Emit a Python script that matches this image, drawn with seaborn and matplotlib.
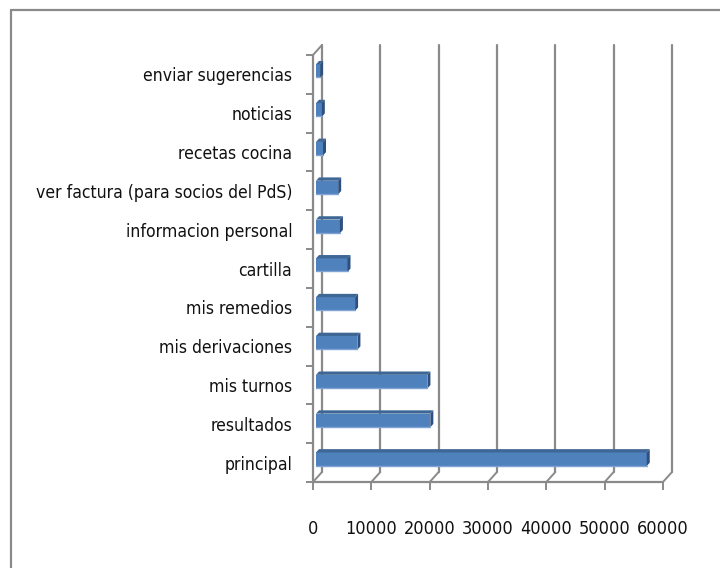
import matplotlib
matplotlib.use("Agg")
import matplotlib.pyplot as plt
import matplotlib.transforms as mtransforms
from matplotlib.patches import Polygon
from matplotlib.lines import Line2D
import seaborn as sns
import pandas as pd
import numpy as np

categories = ["enviar sugerencias", "noticias", "recetas cocina",
              "ver factura (para socios del PdS)", "informacion personal",
              "cartilla", "mis remedios", "mis derivaciones", "mis turnos",
              "resultados", "principal"]
values = [700, 1000, 1200, 3800, 4100, 5400, 6700, 7100, 19100, 19600, 56700]
xticks = [0, 10000, 20000, 30000, 40000, 50000, 60000]

df = pd.DataFrame({"pagina": categories, "visitas": values})

sns.set_theme(style="white")
plt.rcParams['font.family'] = ['DejaVu Sans']
plt.rcParams['font.stretch'] = 'condensed'

W, H = 720, 568
fig = plt.figure(figsize=(W / 100, H / 100), dpi=100)
x0p, x1p, y0p, y1p = 313, 663, 482, 55
ax = fig.add_axes([x0p / W, 1 - y0p / H, (x1p - x0p) / W, (y0p - y1p) / H])

FACE = "#4F81BD"
TOP = "#3E6796"
SIDE = "#2D5080"
GRID = "#8A8A8A"

sns.barplot(data=df, y="pagina", x="visitas", order=categories, orient="h",
            color=FACE, saturation=1, width=0.35, ax=ax, edgecolor="none",
            linewidth=0, zorder=3)

ax.set_xlim(0, 60000)
ax.set_ylim(len(categories) - 0.5, -0.5)
for s in ax.spines.values():
    s.set_visible(False)
ax.set_xlabel("")
ax.set_ylabel("")
ax.patch.set_alpha(0)

DX, DY = 9, 10
def off(dx, dy):
    return mtransforms.ScaledTranslation(dx / 100, dy / 100, fig.dpi_scale_trans)

back = ax.transData + off(DX, DY)
ymin, ymax = len(categories) - 0.5, -0.5

for xv in xticks:
    ax.add_line(Line2D([xv, xv], [ymin, ymax], color=GRID, lw=1.6,
                       transform=back, zorder=1, clip_on=False))
for xv in xticks:
    p0 = ax.transData.transform((xv, ymin))
    p1 = back.transform((xv, ymin))
    fig.add_artist(Line2D([p0[0], p1[0]], [p0[1], p1[1]], color=GRID, lw=1.4,
                          transform=None, zorder=1))
ax.add_line(Line2D([0, 60000], [ymin, ymin], color=GRID, lw=1.6,
                   transform=ax.transData, zorder=1, clip_on=False))
ax.add_line(Line2D([0, 0], [ymin, ymax], color=GRID, lw=1.6,
                   transform=ax.transData, zorder=1, clip_on=False))
p0 = ax.transData.transform((0, ymax))
p1 = back.transform((0, ymax))
fig.add_artist(Line2D([p0[0], p1[0]], [p0[1], p1[1]], color=GRID, lw=1.4,
                      transform=None, zorder=1))

f1 = 1 / 3
front_off = off(DX * f1, DY * f1)
for patch in ax.patches:
    x = patch.get_x(); w = patch.get_width()
    y = patch.get_y(); h = patch.get_height()
    patch.set_transform(ax.transData + front_off)
    t = ax.transData + front_off
    bl = t.transform((x, y + h)); br = t.transform((x + w, y + h))
    tl = t.transform((x, y)); tr = t.transform((x + w, y))
    d = np.array([DX * f1, DY * f1])
    top = Polygon([tl, tr, tr + d, tl + d], closed=True, transform=None,
                  facecolor=TOP, edgecolor="none", zorder=3)
    side = Polygon([br, tr, tr + d, br + d], closed=True, transform=None,
                   facecolor=SIDE, edgecolor="none", zorder=3)
    fig.add_artist(top)
    fig.add_artist(side)
    fig.add_artist(Line2D([bl[0], br[0]], [bl[1] + 0.5, br[1] + 0.5],
                          color="#7FA3D3", lw=1.0, transform=None, zorder=4))

ax.set_xticks(xticks)
ax.set_xticklabels([str(v) for v in xticks])
ax.tick_params(axis="x", bottom=True, length=6, width=1.4, color=GRID,
               pad=21, labelsize=13, labelcolor="#111111")
ax.set_yticks(range(len(categories)))
ax.set_yticklabels(categories)
ax.set_yticks(np.arange(-0.5, len(categories), 1.0), minor=True)
ax.tick_params(axis="y", which="major", left=False, length=0, pad=15,
               labelsize=12.6, labelcolor="#111111")
ax.tick_params(axis="y", which="minor", left=True, length=5, width=1.4,
               color=GRID)
ax.grid(False)

fig.add_artist(Line2D([11, W], [H - 10, H - 10], color=GRID, lw=1.6,
                      transform=None))
fig.add_artist(Line2D([11, 11], [H - 10, 0], color=GRID, lw=1.6,
                      transform=None))

fig.savefig("out.png", dpi=100)
